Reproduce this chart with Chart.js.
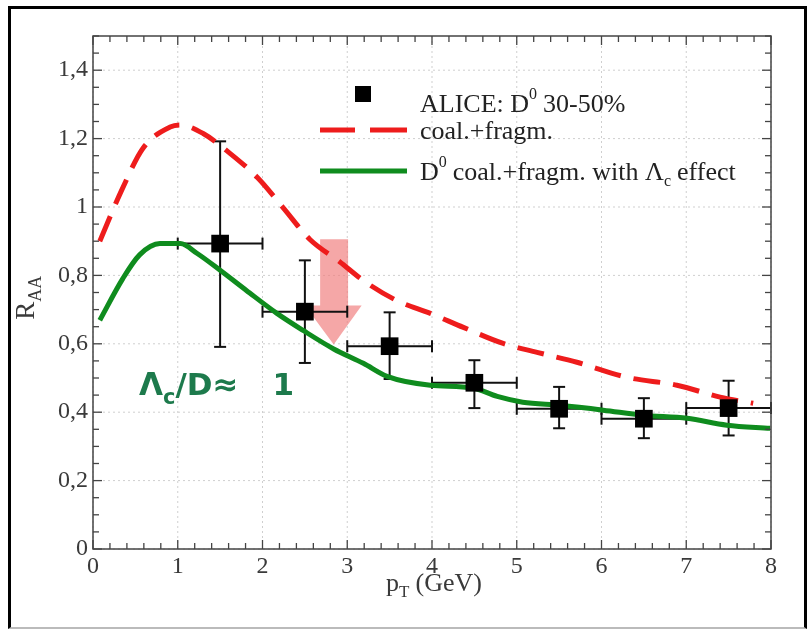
<!DOCTYPE html>
<html>
<head>
<meta charset="utf-8">
<script src="https://cdn.jsdelivr.net/npm/chart.js@4.4.1/dist/chart.umd.min.js"></script>
<style>
  html, body { margin: 0; padding: 0; background: #fff; }
  #wrap { position: relative; width: 809px; height: 630px; }
  #frame { position: absolute; left: 8px; top: 6px; width: 799px; height: 623px; box-sizing: border-box;
           border: 3px solid #000; border-bottom: 2px solid #bbb; pointer-events: none; }
  canvas { position: absolute; left: 0; top: 0; }
</style>
</head>
<body>
<div id="wrap">
  <canvas id="rChart" width="809" height="630"></canvas>
  <div id="frame"></div>
</div>
<script>
// ALICE D0 30-50% data points
const ptX = [1.5, 2.5, 3.5, 4.5, 5.5, 6.5, 7.5];
const ptY = [0.893, 0.694, 0.593, 0.486, 0.410, 0.381, 0.412];
const ptYHi = [1.192, 0.844, 0.692, 0.552, 0.474, 0.441, 0.492];
const ptYLo = [0.591, 0.544, 0.497, 0.412, 0.353, 0.324, 0.332];
const ptXErr = 0.5;

// coal.+fragm. (red dashed)
const redX = [0.08, 0.34, 0.59, 0.91, 1.03, 1.30, 1.62, 1.94, 2.24, 2.56, 2.91, 3.19, 3.58, 3.98, 4.37, 4.84, 5.24, 5.71, 6.30, 6.89, 7.40, 7.79];
const redY = [0.900, 1.050, 1.172, 1.234, 1.240, 1.215, 1.156, 1.086, 0.999, 0.905, 0.840, 0.785, 0.727, 0.689, 0.648, 0.601, 0.575, 0.546, 0.502, 0.479, 0.444, 0.426];

// D0 coal.+fragm. with Lambda_c effect (green)
const grnX = [0.08, 0.35, 0.55, 0.79, 1.03, 1.23, 1.50, 1.81, 2.17, 2.48, 2.84, 3.19, 3.47, 3.98, 4.48, 4.77, 5.07, 5.51, 6.02, 6.49, 7.01, 7.48, 7.99];
const grnY = [0.669, 0.790, 0.860, 0.893, 0.893, 0.864, 0.815, 0.756, 0.689, 0.639, 0.585, 0.543, 0.505, 0.479, 0.471, 0.446, 0.429, 0.420, 0.406, 0.391, 0.382, 0.362, 0.353];

// tick labels
const xTickValues = [0, 1, 2, 3, 4, 5, 6, 7, 8];
const xTickLabels = ['0', '1', '2', '3', '4', '5', '6', '7', '8'];
const yTickValues = [0, 0.2, 0.4, 0.6, 0.8, 1.0, 1.2, 1.4];
const yTickLabels = ['0', '0,2', '0,4', '0,6', '0,8', '1', '1,2', '1,4'];

const serif = '"Liberation Serif", "DejaVu Serif", serif';
const textCol = '#3a3a3a';

function pick(values, labels, v) {
    const i = values.findIndex(t => Math.abs(t - v) < 1e-6);
    return i < 0 ? '' : labels[i];
}

function line(ctx, x1, y1, x2, y2) {
    ctx.beginPath(); ctx.moveTo(x1, y1); ctx.lineTo(x2, y2); ctx.stroke();
}

// text with a sub/superscript part
function richWidth(ctx, parts) {
    let w = 0;
    parts.forEach(p => { ctx.font = p.font; w += ctx.measureText(p.t).width + (p.gap || 0); });
    return w;
}
function drawRich(ctx, x, y, parts) {
    let cx = x;
    parts.forEach(p => {
        ctx.font = p.font;
        ctx.fillText(p.t, cx, y + (p.dy || 0));
        cx += ctx.measureText(p.t).width + (p.gap || 0);
    });
}

const decor = {
    id: 'decor',
    beforeDatasetsDraw(chart) {
        const { ctx, chartArea: a, scales: { x, y } } = chart;
        // dotted grid
        ctx.save();
        ctx.strokeStyle = '#cfcfcf';
        ctx.lineWidth = 1;
        ctx.setLineDash([2, 3]);
        xTickValues.forEach(v => { const px = x.getPixelForValue(v); line(ctx, px, a.top, px, a.bottom); });
        yTickValues.forEach(v => { const py = y.getPixelForValue(v); line(ctx, a.left, py, a.right, py); });
        ctx.restore();

        // pink arrow
        ctx.save();
        ctx.fillStyle = 'rgba(240, 125, 125, 0.68)';
        const sl = x.getPixelForValue(2.68), sr = x.getPixelForValue(3.01);
        const st = y.getPixelForValue(0.906), hb = y.getPixelForValue(0.712);
        const hl = x.getPixelForValue(2.50), hr = x.getPixelForValue(3.17);
        const tx = x.getPixelForValue(2.84), ty = y.getPixelForValue(0.598);
        ctx.beginPath();
        ctx.moveTo(sl, st); ctx.lineTo(sr, st); ctx.lineTo(sr, hb); ctx.lineTo(hr, hb);
        ctx.lineTo(tx, ty); ctx.lineTo(hl, hb); ctx.lineTo(sl, hb); ctx.closePath();
        ctx.fill();
        ctx.restore();

        // error bars
        ctx.save();
        ctx.strokeStyle = '#111';
        ctx.lineWidth = 2;
        const cap = 6;
        ptX.forEach((vx, i) => {
            const px = x.getPixelForValue(vx), py = y.getPixelForValue(ptY[i]);
            const x1 = x.getPixelForValue(vx - ptXErr), x2 = x.getPixelForValue(vx + ptXErr);
            const yh = y.getPixelForValue(ptYHi[i]), yl = y.getPixelForValue(ptYLo[i]);
            line(ctx, x1, py, x2, py);
            line(ctx, x1, py - cap, x1, py + cap);
            line(ctx, x2, py - cap, x2, py + cap);
            line(ctx, px, yh, px, yl);
            line(ctx, px - cap, yh, px + cap, yh);
            line(ctx, px - cap, yl, px + cap, yl);
        });
        ctx.restore();
    },
    afterDraw(chart) {
        const { ctx, chartArea: a, scales: { x, y } } = chart;
        ctx.save();
        // plot frame
        ctx.strokeStyle = '#444';
        ctx.lineWidth = 1.5;
        ctx.strokeRect(a.left, a.top, a.right - a.left, a.bottom - a.top);
        // inward ticks
        ctx.lineWidth = 1.3;
        for (let k = 0; k <= 40; k++) {
            const px = x.getPixelForValue(k * 0.2);
            const L = k % 5 === 0 ? 9 : 6;
            line(ctx, px, a.bottom, px, a.bottom - L);
            line(ctx, px, a.top, px, a.top + L);
        }
        for (let k = 0; k <= 30; k++) {
            const py = y.getPixelForValue(k * 0.05);
            const L = k % 4 === 0 ? 9 : 6;
            line(ctx, a.left, py, a.left + L, py);
            line(ctx, a.right, py, a.right - L, py);
        }

        ctx.fillStyle = textCol;
        ctx.textBaseline = 'alphabetic';
        ctx.textAlign = 'left';
        // x title: p_T (GeV)
        const xt = [
            { t: 'p', font: '26px ' + serif },
            { t: 'T', font: '17px ' + serif, dy: 6, gap: 6 },
            { t: '(GeV)', font: '26px ' + serif }
        ];
        drawRich(ctx, (a.left + a.right) / 2 + 2 - richWidth(ctx, xt) / 2, a.bottom + 42, xt);
        // y title: R_AA
        ctx.save();
        ctx.translate(34, y.getPixelForValue(0.67));
        ctx.rotate(-Math.PI / 2);
        drawRich(ctx, 0, 0, [
            { t: 'R', font: '27px ' + serif },
            { t: 'AA', font: '18px ' + serif, dy: 7 }
        ]);
        ctx.restore();

        // legend
        ctx.fillStyle = '#000';
        ctx.fillRect(355, 86, 16, 16);
        ctx.strokeStyle = '#ee1c1c';
        ctx.lineWidth = 5;
        line(ctx, 320, 130, 355, 130);
        line(ctx, 370, 130, 407, 130);
        ctx.strokeStyle = '#0f8c1e';
        line(ctx, 320, 171, 407, 171);
        ctx.fillStyle = '#222';
        const lf = '26px ' + serif, sf = '16px ' + serif;
        drawRich(ctx, 420, 112, [
            { t: 'ALICE: D', font: lf },
            { t: '0', font: sf, dy: -13, gap: 6 },
            { t: '30-50%', font: lf }
        ]);
        drawRich(ctx, 420, 139, [{ t: 'coal.+fragm.', font: lf }]);
        drawRich(ctx, 420, 180, [
            { t: 'D', font: lf },
            { t: '0', font: sf, dy: -13, gap: 6 },
            { t: 'coal.+fragm. with \u039B', font: lf },
            { t: 'c', font: sf, dy: 6, gap: 6 },
            { t: 'effect', font: lf }
        ]);

        // annotation  Lambda_c / D ~ 1
        ctx.fillStyle = '#1d7a4c';
        const bold = 'bold 31px "DejaVu Sans", sans-serif';
        drawRich(ctx, 139, 395, [
            { t: '\u039B', font: bold },
            { t: 'c', font: 'bold 21px "DejaVu Sans", sans-serif', dy: 9 },
            { t: '/D\u2248', font: bold, gap: 34 },
            { t: '1', font: bold }
        ]);
        ctx.restore();
    }
};

const ctx = document.getElementById('rChart').getContext('2d');
new Chart(ctx, {
    type: 'scatter',
    data: {
        datasets: [
            {
                label: 'ALICE: D0 30-50%',
                data: ptX.map((v, i) => ({ x: v, y: ptY[i] })),
                pointStyle: 'rect',
                pointRadius: 12.5,
                backgroundColor: '#000',
                borderColor: '#000',
                borderWidth: 0,
                showLine: false
            },
            {
                label: 'D0 coal.+fragm. with \u039Bc effect',
                data: grnX.map((v, i) => ({ x: v, y: grnY[i] })),
                showLine: true,
                borderColor: '#0f8c1e',
                borderWidth: 5,
                pointRadius: 0,
                cubicInterpolationMode: 'monotone'
            },
            {
                label: 'coal.+fragm.',
                data: redX.map((v, i) => ({ x: v, y: redY[i] })),
                showLine: true,
                borderColor: '#ee1c1c',
                borderWidth: 5,
                borderDash: [27, 13],
                pointRadius: 0,
                cubicInterpolationMode: 'monotone'
            }
        ]
    },
    options: {
        responsive: false,
        animation: false,
        layout: { padding: { left: 12, right: 38, top: 36, bottom: 0 } },
        plugins: { legend: { display: false }, tooltip: { enabled: false } },
        scales: {
            x: {
                type: 'linear', min: 0, max: 8,
                afterFit(s) { s.height = 81; },
                afterBuildTicks(s) { s.ticks = xTickValues.map(v => ({ value: v })); },
                ticks: {
                    callback: v => pick(xTickValues, xTickLabels, v),
                    font: { family: serif, size: 24 }, color: textCol, padding: 3, maxRotation: 0
                },
                grid: { display: false, drawTicks: false },
                border: { display: false }
            },
            y: {
                min: 0, max: 1.5,
                afterFit(s) { s.width = 81; },
                afterBuildTicks(s) { s.ticks = yTickValues.map(v => ({ value: v })); },
                ticks: {
                    callback: v => pick(yTickValues, yTickLabels, v),
                    font: { family: serif, size: 24 }, color: textCol, padding: 5
                },
                grid: { display: false, drawTicks: false },
                border: { display: false }
            }
        }
    },
    plugins: [decor]
});
</script>
</body>
</html>
